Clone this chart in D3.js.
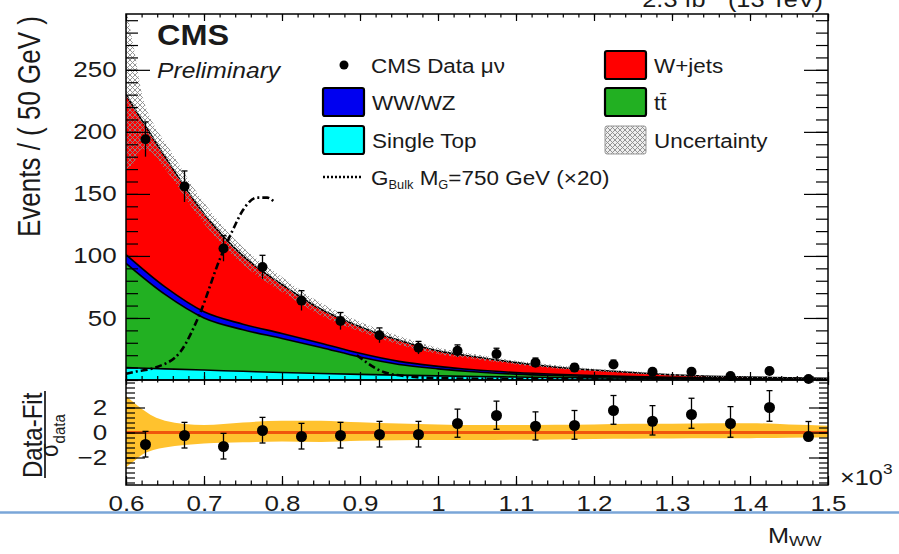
<!DOCTYPE html>
<html>
<head>
<meta charset="utf-8">
<script src="https://cdn.jsdelivr.net/npm/d3@7"></script>
<style>
  body { margin: 0; background: #fff; }
  text { font-family: "Liberation Sans", Arial, Helvetica, sans-serif; fill: #1a1a1a; }
</style>
</head>
<body>
<script>
// ***************************************
//   DATA
// ***************************************
const processNames = ["Single Top", "tt\u0304", "WW/WZ", "W+jets"];
const processKeys = ["singleTop", "ttbar", "wwwz", "wjets"];
const processColors = ["#00ffff", "#22b022", "#0000f0", "#ff0000"];

// fitted background shapes, sampled every 50 GeV (in TeV)
const massGrid = [0.6, 0.65, 0.7, 0.75, 0.8, 0.85, 0.9, 0.95, 1.0, 1.05, 1.1, 1.15, 1.2, 1.25, 1.3, 1.35, 1.4, 1.45, 1.5];
const singleTop = [10, 9, 8, 7, 6, 5.2, 4.5, 3.9, 3.3, 2.8, 2.4, 2.0, 1.7, 1.4, 1.2, 1.0, 0.8, 0.7, 0.6];
const ttbar = [84, 60, 42, 33.5, 27.5, 21, 14, 8.6, 5.7, 3.6, 2.3, 1.6, 1.1, 0.75, 0.5, 0.3, 0.2, 0.1, 0.05];
const wwwz = [7, 6, 5, 4.5, 4, 3.5, 3, 2.5, 2, 1.6, 1.3, 1.0, 0.8, 0.65, 0.5, 0.4, 0.3, 0.25, 0.2];
const wjets = [129, 105, 79, 55, 39.5, 27.3, 21.5, 17, 12.5, 10.5, 8, 5.9, 4.4, 3.2, 2, 1.3, 1.0, 0.8, 0.5];

// fit uncertainty band (events)
const uncX = [0.6, 0.61, 0.62, 0.635, 0.65, 0.7, 0.75, 0.8, 0.85, 0.9, 0.95, 1.0, 1.05, 1.1, 1.15, 1.2, 1.25, 1.3, 1.35, 1.4, 1.45, 1.5];
const uncHigh = [300, 268, 232, 207, 192, 143, 107, 83, 62, 47, 35.5, 26, 20.5, 15.5, 12, 9, 7, 5, 3.7, 2.9, 2.3, 1.7];
const uncLow = [170, 175, 186, 182, 170, 126, 93, 71, 52, 39, 28.5, 21, 16.5, 12.5, 9, 7, 5, 3.4, 2.3, 1.7, 1.3, 0.9];

// signal G_bulk 750 GeV x20 (gap where the curve is not drawn)
const signalX = [0.6, 0.61, 0.64, 0.67, 0.695, 0.72, 0.737, 0.75, 0.768, 0.781, 0.791, 0.85, 0.896, 0.93, 0.96, 1.0, 1.1, 1.2, 1.3, 1.4, 1.5];
const signalY = [5, 6.5, 10.5, 23, 54, 97, 121, 137, 147, 147, 143, null, 20, 6.5, 3, 1.5, 0.8, 0.5, 0.4, 0.3, 0.3];

// data
const binCenters = [0.625, 0.675, 0.725, 0.775, 0.825, 0.875, 0.925, 0.975, 1.025, 1.075, 1.125, 1.175, 1.225, 1.275, 1.325, 1.375, 1.425, 1.475];
const dataEvents = [194, 156, 106, 91, 64, 47.5, 36, 26, 23.5, 21, 14, 10, 12.5, 6.7, 6.7, 3.2, 7.3, 0.8];
const dataErr = [14, 12.5, 10.3, 9.5, 8, 6.9, 6, 5.1, 4.8, 4.6, 3.7, 3.2, 3.5, 2.6, 2.6, 1.8, 2.7, 1.2];

// pulls (Data-Fit)/sigma
const pullValues = [-0.96, -0.24, -1.12, 0.16, -0.32, -0.24, -0.16, -0.16, 0.72, 1.36, 0.5, 0.56, 1.76, 0.9, 1.44, 0.72, 2.0, -0.32];
const pullErrUp = [1.05, 1.05, 1.05, 1.05, 1.05, 1.05, 1.05, 1.05, 1.15, 1.15, 1.15, 1.2, 1.2, 1.25, 1.3, 1.35, 1.35, 1.2];
const pullErrDown = [1.0, 1.0, 1.0, 1.0, 1.0, 1.0, 1.0, 1.0, 1.1, 1.1, 1.1, 1.1, 1.1, 1.1, 1.1, 1.1, 1.1, 0.0];

// pull band
const bandX = [0.6, 0.61, 0.62, 0.635, 0.65, 0.7, 0.75, 0.8, 0.85, 0.9, 0.95, 1.0, 1.05, 1.1, 1.15, 1.2, 1.25, 1.3, 1.35, 1.4, 1.45, 1.5];
const bandUp = [2.95, 2.4, 1.9, 1.3, 0.95, 0.6, 0.8, 0.95, 0.95, 0.82, 0.72, 0.65, 0.6, 0.6, 0.62, 0.65, 0.7, 0.7, 0.75, 0.75, 0.65, 0.55];
const bandDown = [-2.8, -2.3, -1.8, -1.4, -1.2, -0.88, -0.78, -0.72, -0.76, -0.66, -0.62, -0.6, -0.6, -0.58, -0.55, -0.52, -0.5, -0.48, -0.46, -0.45, -0.42, -0.4];

// ticks
const xTicks = [0.6, 0.7, 0.8, 0.9, 1.0, 1.1, 1.2, 1.3, 1.4, 1.5];
const yTicks = [50, 100, 150, 200, 250];
const pullTicks = [-2, 0, 2];

// ***************************************
//   DIMENSIONS
// ***************************************
const width = 899, height = 554;
const padLeft = 126, padRight = 828, padTop = 14, padMid = 380, padBottom = 485;

const svg = d3.select("body").append("svg")
    .attr("width", width).attr("height", height)
    .style("display", "block");

const x = d3.scaleLinear().domain([0.6, 1.5]).range([padLeft, padRight]);
const y = d3.scaleLinear().domain([0, 295]).range([padMid, padTop]);
const yr = d3.scaleLinear().domain([-4.2, 4.2]).range([padBottom, padMid]);

const defs = svg.append("defs");
defs.append("clipPath").attr("id", "clipMain")
    .append("rect").attr("x", padLeft).attr("y", padTop).attr("width", padRight - padLeft).attr("height", padMid - padTop);
defs.append("clipPath").attr("id", "clipRatio")
    .append("rect").attr("x", padLeft).attr("y", padMid).attr("width", padRight - padLeft).attr("height", padBottom - padMid);
const hatch = defs.append("pattern").attr("id", "hatch")
    .attr("patternUnits", "userSpaceOnUse").attr("width", 5).attr("height", 5);
hatch.append("path").attr("d", "M0,0 L5,5 M5,0 L0,5").attr("stroke", "#8a8a8a").attr("stroke-width", 0.9);

// ***************************************
//   MAIN PAD: STACKED BACKGROUNDS
// ***************************************
const main = svg.append("g").attr("clip-path", "url(#clipMain)");

const rows = massGrid.map(function (m, i) {
    return { m: m, singleTop: singleTop[i], ttbar: ttbar[i], wwwz: wwwz[i], wjets: wjets[i] };
});
const series = d3.stack().keys(processKeys)(rows);

const area = d3.area()
    .x(function (d) { return x(d.data.m); })
    .y0(function (d) { return y(d[0]); })
    .y1(function (d) { return y(d[1]); })
    .curve(d3.curveMonotoneX);
const topLine = d3.line()
    .x(function (d) { return x(d.data.m); })
    .y(function (d) { return y(d[1]); })
    .curve(d3.curveMonotoneX);

main.selectAll(".stack").data(series).enter().append("path")
    .attr("class", "stack")
    .attr("d", area)
    .attr("fill", function (d, i) { return processColors[i]; });
main.selectAll(".stackLine").data(series).enter().append("path")
    .attr("class", "stackLine")
    .attr("d", topLine)
    .attr("fill", "none")
    .attr("stroke", "#000")
    .attr("stroke-width", 1.6);

// uncertainty hatch
const uncRows = uncX.map(function (m, i) { return { m: m, lo: uncLow[i], hi: uncHigh[i] }; });
main.append("path")
    .datum(uncRows)
    .attr("d", d3.area()
        .x(function (d) { return x(d.m); })
        .y0(function (d) { return y(d.lo); })
        .y1(function (d) { return y(d.hi); })
        .curve(d3.curveMonotoneX))
    .attr("fill", "url(#hatch)");

// signal
const sigRows = signalX.map(function (m, i) { return { m: m, v: signalY[i] }; });
main.append("path")
    .datum(sigRows)
    .attr("d", d3.line()
        .defined(function (d) { return d.v !== null; })
        .x(function (d) { return x(d.m); })
        .y(function (d) { return y(d.v); })
        .curve(d3.curveMonotoneX))
    .attr("fill", "none")
    .attr("stroke", "#000")
    .attr("stroke-width", 2.6)
    .attr("stroke-dasharray", "7,3,2,3");

// data points
const pts = svg.append("g");
binCenters.forEach(function (m, i) {
    const cx = x(m), v = dataEvents[i], e = dataErr[i];
    pts.append("line").attr("x1", cx).attr("x2", cx)
        .attr("y1", y(Math.max(v - e, 0))).attr("y2", y(v + e))
        .attr("stroke", "#000").attr("stroke-width", 1.3);
    pts.append("line").attr("x1", cx - 3).attr("x2", cx + 3)
        .attr("y1", y(v + e)).attr("y2", y(v + e))
        .attr("stroke", "#000").attr("stroke-width", 1.3);
    pts.append("circle").attr("cx", cx).attr("cy", y(v)).attr("r", 5).attr("fill", "#000");
});

// ***************************************
//   RATIO PAD
// ***************************************
const ratio = svg.append("g").attr("clip-path", "url(#clipRatio)");
const bandRows = bandX.map(function (m, i) { return { m: m, lo: bandDown[i], hi: bandUp[i] }; });
ratio.append("path")
    .datum(bandRows)
    .attr("d", d3.area()
        .x(function (d) { return x(d.m); })
        .y0(function (d) { return yr(d.lo); })
        .y1(function (d) { return yr(d.hi); })
        .curve(d3.curveMonotoneX))
    .attr("fill", "#ffc22e");
ratio.append("line")
    .attr("x1", padLeft).attr("x2", padRight)
    .attr("y1", yr(0)).attr("y2", yr(0))
    .attr("stroke", "#f0560c").attr("stroke-width", 3);

binCenters.forEach(function (m, i) {
    const cx = x(m), v = pullValues[i];
    const y1 = yr(v - pullErrDown[i]), y2 = yr(v + pullErrUp[i]);
    ratio.append("line").attr("x1", cx).attr("x2", cx).attr("y1", y1).attr("y2", y2)
        .attr("stroke", "#000").attr("stroke-width", 1.3);
    [y1, y2].forEach(function (yy) {
        ratio.append("line").attr("x1", cx - 3).attr("x2", cx + 3).attr("y1", yy).attr("y2", yy)
            .attr("stroke", "#000").attr("stroke-width", 1.3);
    });
    ratio.append("circle").attr("cx", cx).attr("cy", yr(v)).attr("r", 5.5).attr("fill", "#000");
});

// ***************************************
//   AXES (ROOT style, ticks inside)
// ***************************************
const minorX = d3.range(0.6, 1.5001, 0.02);
const minorY = d3.range(0, 300, 10);
const minorR = d3.range(-4, 4.01, 0.4);
const fmt = d3.format("~g");

function axisGroup(axis, tx, ty, withLabels) {
    const g = svg.append("g")
        .attr("transform", "translate(" + tx + "," + ty + ")")
        .call(axis);
    g.select(".domain").remove();
    g.selectAll("line").attr("stroke", "#000").attr("stroke-width", 1.2);
    g.attr("font-size", 22).attr("font-family", null);
    if (withLabels) {
        g.selectAll("text").attr("fill", "#222").attr("transform", "scale(1.18,1)");
    }
    return g;
}

// main pad
axisGroup(d3.axisBottom(x).tickValues(xTicks).tickSize(-8).tickSizeOuter(0).tickFormat(""), 0, padMid, false);
axisGroup(d3.axisBottom(x).tickValues(minorX).tickSize(-4).tickSizeOuter(0).tickFormat(""), 0, padMid, false);
axisGroup(d3.axisTop(x).tickValues(xTicks).tickSize(-7).tickSizeOuter(0).tickFormat(""), 0, padTop, false);
axisGroup(d3.axisTop(x).tickValues(minorX).tickSize(-3.5).tickSizeOuter(0).tickFormat(""), 0, padTop, false);
axisGroup(d3.axisLeft(y).tickValues(yTicks).tickSize(-24).tickPadding(8).tickSizeOuter(0), padLeft, 0, true);
axisGroup(d3.axisLeft(y).tickValues(minorY).tickSize(-12).tickSizeOuter(0).tickFormat(""), padLeft, 0, false);
axisGroup(d3.axisRight(y).tickValues(yTicks).tickSize(-24).tickSizeOuter(0).tickFormat(""), padRight, 0, false);
axisGroup(d3.axisRight(y).tickValues(minorY).tickSize(-12).tickSizeOuter(0).tickFormat(""), padRight, 0, false);

// ratio pad
axisGroup(d3.axisBottom(x).tickValues(xTicks).tickSize(-9).tickPadding(10).tickSizeOuter(0).tickFormat(fmt), 0, padBottom, true);
axisGroup(d3.axisBottom(x).tickValues(minorX).tickSize(-4.5).tickSizeOuter(0).tickFormat(""), 0, padBottom, false);
axisGroup(d3.axisTop(x).tickValues(xTicks).tickSize(-5).tickSizeOuter(0).tickFormat(""), 0, padMid, false);
axisGroup(d3.axisTop(x).tickValues(minorX).tickSize(-2.5).tickSizeOuter(0).tickFormat(""), 0, padMid, false);
axisGroup(d3.axisLeft(yr).tickValues(pullTicks).tickSize(-19).tickPadding(16).tickSizeOuter(0), padLeft, 0, true);
axisGroup(d3.axisLeft(yr).tickValues(minorR).tickSize(-9).tickSizeOuter(0).tickFormat(""), padLeft, 0, false);
axisGroup(d3.axisRight(yr).tickValues(pullTicks).tickSize(-19).tickSizeOuter(0).tickFormat(""), padRight, 0, false);
axisGroup(d3.axisRight(yr).tickValues(minorR).tickSize(-9).tickSizeOuter(0).tickFormat(""), padRight, 0, false);

// frames
svg.append("rect").attr("x", padLeft).attr("y", padTop).attr("width", padRight - padLeft).attr("height", padMid - padTop)
    .attr("fill", "none").attr("stroke", "#000").attr("stroke-width", 1.5);
svg.append("rect").attr("x", padLeft).attr("y", padMid).attr("width", padRight - padLeft).attr("height", padBottom - padMid)
    .attr("fill", "none").attr("stroke", "#000").attr("stroke-width", 1.5);

// ***************************************
//   TEXTS
// ***************************************
function label(tx, ty, sx, size) {
    return svg.append("text")
        .attr("transform", "translate(" + tx + "," + ty + ") scale(" + sx + ",1)")
        .attr("font-size", size);
}

// lumi label sits at the very top edge, partly cut as in the source slide
const title = label(823, 7, 1.15, 22).attr("text-anchor", "end");
title.append("tspan").text("2.3 fb");
title.append("tspan").attr("font-size", 15).attr("dy", -8).text("-1");
title.append("tspan").attr("dy", 8).text(" (13 TeV)");

label(157, 45, 1.08, 30).attr("font-weight", "bold").text("CMS");
label(157, 78, 1.12, 22).attr("font-style", "italic").text("Preliminary");

svg.append("text")
    .attr("transform", "translate(40,237) rotate(-90) scale(1,1.2)")
    .attr("font-size", 26)
    .text("Events / ( 50 GeV )");

svg.append("text")
    .attr("transform", "translate(42,478) rotate(-90) scale(1,1.15)")
    .attr("font-size", 24)
    .text("Data-Fit");
svg.append("line").attr("x1", 45).attr("x2", 45).attr("y1", 391).attr("y2", 478)
    .attr("stroke", "#222").attr("stroke-width", 1.8);
const sig = svg.append("text")
    .attr("transform", "translate(58,457) rotate(-90) scale(1,1.15)")
    .attr("font-size", 22);
sig.append("tspan").text("\u03c3");
sig.append("tspan").attr("font-size", 15).attr("dy", 6).text("data");

const xl = label(840, 485, 1.15, 22);
xl.append("tspan").text("\u00d710");
xl.append("tspan").attr("font-size", 15).attr("dy", -11).text("3");

const mww = label(768, 543, 1.15, 22);
mww.append("tspan").text("M");
mww.append("tspan").attr("font-size", 15).attr("dy", 3).text("WW");

// separator line of the slide
svg.append("line").attr("x1", 0).attr("x2", width).attr("y1", 512.5).attr("y2", 512.5)
    .attr("stroke", "#7aa6d8").attr("stroke-width", 2.5);

// ***************************************
//   LEGEND
// ***************************************
const rowY = [65, 102, 140, 177];
const colX = [323, 605];
const boxW = 41, boxH = 28;

svg.append("circle").attr("cx", 344).attr("cy", rowY[0]).attr("r", 4.5).attr("fill", "#000");
label(371, rowY[0] + 7.5, 1.07, 21).text("CMS Data \u03bc\u03bd");

const legendItems = [
    { col: 1, row: 0, fill: processColors[3], name: processNames[3] },
    { col: 0, row: 1, fill: processColors[2], name: processNames[2] },
    { col: 1, row: 1, fill: processColors[1], name: processNames[1] },
    { col: 0, row: 2, fill: processColors[0], name: processNames[0] },
    { col: 1, row: 2, fill: "url(#hatch)", name: "Uncertainty" }
];
legendItems.forEach(function (d) {
    const bx = colX[d.col], by = rowY[d.row] - boxH / 2;
    if (d.name === "Uncertainty") {
        svg.append("rect").attr("x", bx).attr("y", by).attr("width", boxW).attr("height", boxH)
            .attr("fill", "#eee");
    }
    svg.append("rect").attr("x", bx).attr("y", by).attr("width", boxW).attr("height", boxH)
        .attr("rx", 2)
        .attr("fill", d.fill)
        .attr("stroke", d.name === "Uncertainty" ? "#999" : "#000")
        .attr("stroke-width", d.name === "Uncertainty" ? 1 : 2.2);
    label(bx + 49, rowY[d.row] + 7.5, 1.07, 21).text(d.name);
});

svg.append("line").attr("x1", 323).attr("x2", 361).attr("y1", rowY[3]).attr("y2", rowY[3])
    .attr("stroke", "#000").attr("stroke-width", 2.5).attr("stroke-dasharray", "2,2");
const gl = label(371, rowY[3] + 7.5, 1.07, 21);
gl.append("tspan").text("G");
gl.append("tspan").attr("font-size", 12).attr("dy", 4).text("Bulk");
gl.append("tspan").attr("dy", -4).text(" M");
gl.append("tspan").attr("font-size", 12).attr("dy", 4).text("G");
gl.append("tspan").attr("dy", -4).text("=750 GeV (\u00d720)");
</script>
</body>
</html>
